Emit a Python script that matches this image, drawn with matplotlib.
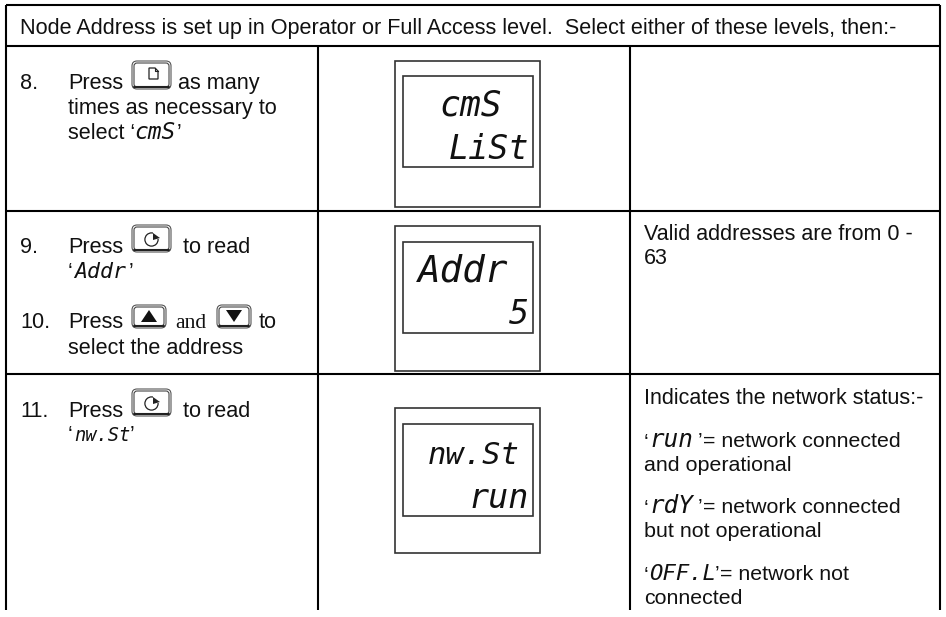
import matplotlib
matplotlib.use("Agg")
import matplotlib.pyplot as plt
from matplotlib.patches import FancyBboxPatch, Rectangle, Polygon

SANS = "Liberation Sans"
LCD = "DejaVu Sans Mono"

# table text
header = "Node Address is set up in Operator or Full Access level.  Select either of these levels, then:-"
step_numbers = ["8.", "9.", "10.", "11."]
step_press = "Press"
step_8_lines = ["as many", "times as necessary to", "select \u2018", "\u2019"]
step_9_lines = ["to read", "\u2018", "\u2019"]
step_10_lines = ["and", "to", "select the address"]
valid_lines = ["Valid addresses are from 0 -", "63"]
status_title = "Indicates the network status:-"
status_codes = ["run", "rdY", "OFF.L"]
status_lines = [
    ["= network connected", "and operational"],
    ["= network connected", "but not operational"],
    ["= network not", "connected"],
]
# what the instrument display shows: (top line, bottom line)
displays = [("cmS", "LiSt"), ("Addr", "5"), ("nw.St", "run")]
inline_codes = ["cmS", "Addr", "nw.St"]

# table rules, pixels
col_lines = [6, 318, 630, 940]
row_lines = [5, 46, 211, 374]
table_bottom = 610


def txt(ax, x, y, s, size=15.6, family=SANS, **kw):
    return ax.text(x, y + 1, s, fontsize=size, family=family, va="baseline", color="#111111", **kw)


def lcd(ax, x, y, s, size=10, ha="left"):
    return ax.text(x, y + 1, s, fontsize=size, family=LCD, style="oblique",
                   va="baseline", ha=ha, color="#111111")


def button(ax, x0, y0, x1, y1):
    ax.add_patch(FancyBboxPatch((x0 + 3, y0 + 3), x1 - x0 - 6, y1 - y0 - 6,
                                boxstyle="round,pad=0,rounding_size=3",
                                fc="white", ec="#444444", lw=0.8))
    ax.add_patch(FancyBboxPatch((x0 + 1, y0 + 1), x1 - x0 - 2, y1 - y0 - 2,
                                boxstyle="round,pad=0,rounding_size=5",
                                fc="none", ec="#555555", lw=0.8))
    ax.plot([x0 + 3, x1 - 3], [y1 - 3, y1 - 3], color="#222222", lw=1.5, solid_capstyle="round")


def page_icon(ax, cx, cy):
    ax.add_patch(Polygon([(cx - 4, cy - 7), (cx + 2, cy - 7), (cx + 5, cy - 4),
                          (cx + 5, cy + 4), (cx - 4, cy + 4)],
                         closed=True, fc="white", ec="#222222", lw=0.9))
    ax.plot([cx + 2, cx + 2, cx + 5], [cy - 7, cy - 4, cy - 4], color="#222222", lw=0.8)


def scroll_icon(ax, cx, cy):
    ax.plot([cx - 1], [cy], marker="o", ms=9.5, mfc="none", mec="#222222", mew=0.9)
    ax.add_patch(Rectangle((cx + 1, cy - 7), 8, 6.5, fc="white", ec="none", zorder=3))
    ax.add_patch(Polygon([(cx + 1, cy - 6), (cx + 8, cy - 1), (cx + 1, cy + 1)],
                         closed=True, fc="#222222", ec="none", zorder=4))


def tri_icon(ax, cx, cy, up=True):
    h = -6 if up else 6
    ax.add_patch(Polygon([(cx - 8, cy - h), (cx + 8, cy - h), (cx, cy + h)],
                         closed=True, fc="#111111", ec="none"))


def display_box(ax, outer_top, outer_bottom, inner_top, inner_bottom):
    ax.add_patch(Rectangle((395, outer_top), 145, outer_bottom - outer_top,
                           fc="white", ec="#333333", lw=1.2))
    ax.add_patch(Rectangle((403, inner_top), 130, inner_bottom - inner_top,
                           fc="white", ec="#333333", lw=1.2))


fig = plt.figure(figsize=(9.46, 6.17), dpi=100)
ax = fig.add_axes([0, 0, 1, 1])
ax.set_xlim(0, 946)
ax.set_ylim(617, 0)
ax.axis("off")

# grid of the table
for x in [col_lines[0], col_lines[3]]:
    ax.plot([x, x], [row_lines[0], table_bottom], color="black", lw=1.5, solid_capstyle="butt")
for x in col_lines[1:3]:
    ax.plot([x, x], [row_lines[1], table_bottom], color="black", lw=1.5, solid_capstyle="butt")
for y in row_lines:
    ax.plot([col_lines[0], col_lines[3]], [y, y], color="black", lw=1.5, solid_capstyle="butt")

txt(ax, 20, 33, header)

# step 8
txt(ax, 20, 88, step_numbers[0])
txt(ax, 68, 88, step_press)
button(ax, 131, 60, 172, 90)
page_icon(ax, 153, 75)
txt(ax, 178, 88, step_8_lines[0])
txt(ax, 68, 113, step_8_lines[1])
txt(ax, 68, 138, step_8_lines[2])
lcd(ax, 134, 138, inline_codes[0], size=16.5)
txt(ax, 177, 138, step_8_lines[3])

# steps 9, 10
txt(ax, 20, 252, step_numbers[1])
txt(ax, 68, 252, step_press)
button(ax, 131, 224, 172, 253)
scroll_icon(ax, 152, 239)
txt(ax, 183, 252, step_9_lines[0])
txt(ax, 68, 277, step_9_lines[1])
lcd(ax, 74, 277, inline_codes[1], size=15.5)
txt(ax, 129, 277, step_9_lines[2])

txt(ax, 20, 327, step_numbers[2])
txt(ax, 68, 327, step_press)
button(ax, 131, 304, 167, 329)
tri_icon(ax, 149, 316, up=True)
txt(ax, 175, 327, step_10_lines[0], family="Liberation Serif")
button(ax, 216, 304, 252, 329)
tri_icon(ax, 234, 316, up=False)
txt(ax, 259, 327, step_10_lines[1])
txt(ax, 68, 353, step_10_lines[2])

# step 11
txt(ax, 20, 416, step_numbers[3])
txt(ax, 68, 416, step_press)
button(ax, 131, 388, 172, 417)
scroll_icon(ax, 152, 403)
txt(ax, 183, 416, step_9_lines[0])
txt(ax, 68, 440, step_9_lines[1])
lcd(ax, 74, 440, inline_codes[2], size=13.5)
txt(ax, 130, 440, step_9_lines[2])

# instrument displays
display_box(ax, 61, 207, 76, 167)
lcd(ax, 471, 115, displays[0][0], size=25, ha="center")
lcd(ax, 529, 158, displays[0][1], size=24, ha="right")

display_box(ax, 226, 371, 242, 333)
lcd(ax, 463, 281, displays[1][0], size=27, ha="center")
lcd(ax, 529, 323, displays[1][1], size=24, ha="right")

display_box(ax, 408, 553, 424, 516)
lcd(ax, 474, 463, displays[2][0], size=22, ha="center")
lcd(ax, 529, 507, displays[2][1], size=24, ha="right")

# right column
txt(ax, 644, 239, valid_lines[0], size=15.5)
txt(ax, 644, 263, valid_lines[1], size=15.5)
txt(ax, 644, 403, status_title, size=15.5)

status_y = [446, 512, 579]
status_sizes = [17.5, 17.5, 16]
status_eq_x = [703, 703, 720]
for y, code, lines, eq_x, sz in zip(status_y, status_codes, status_lines, status_eq_x, status_sizes):
    txt(ax, 644, y, "\u2018", size=15.4)
    lcd(ax, 649, y, code, size=sz)
    txt(ax, eq_x - 5, y, "\u2019", size=15.4)
    txt(ax, eq_x, y, lines[0], size=15.4)
    txt(ax, 644, y + 24, lines[1], size=15.4)

fig.savefig("out.png", dpi=100, facecolor="white")
